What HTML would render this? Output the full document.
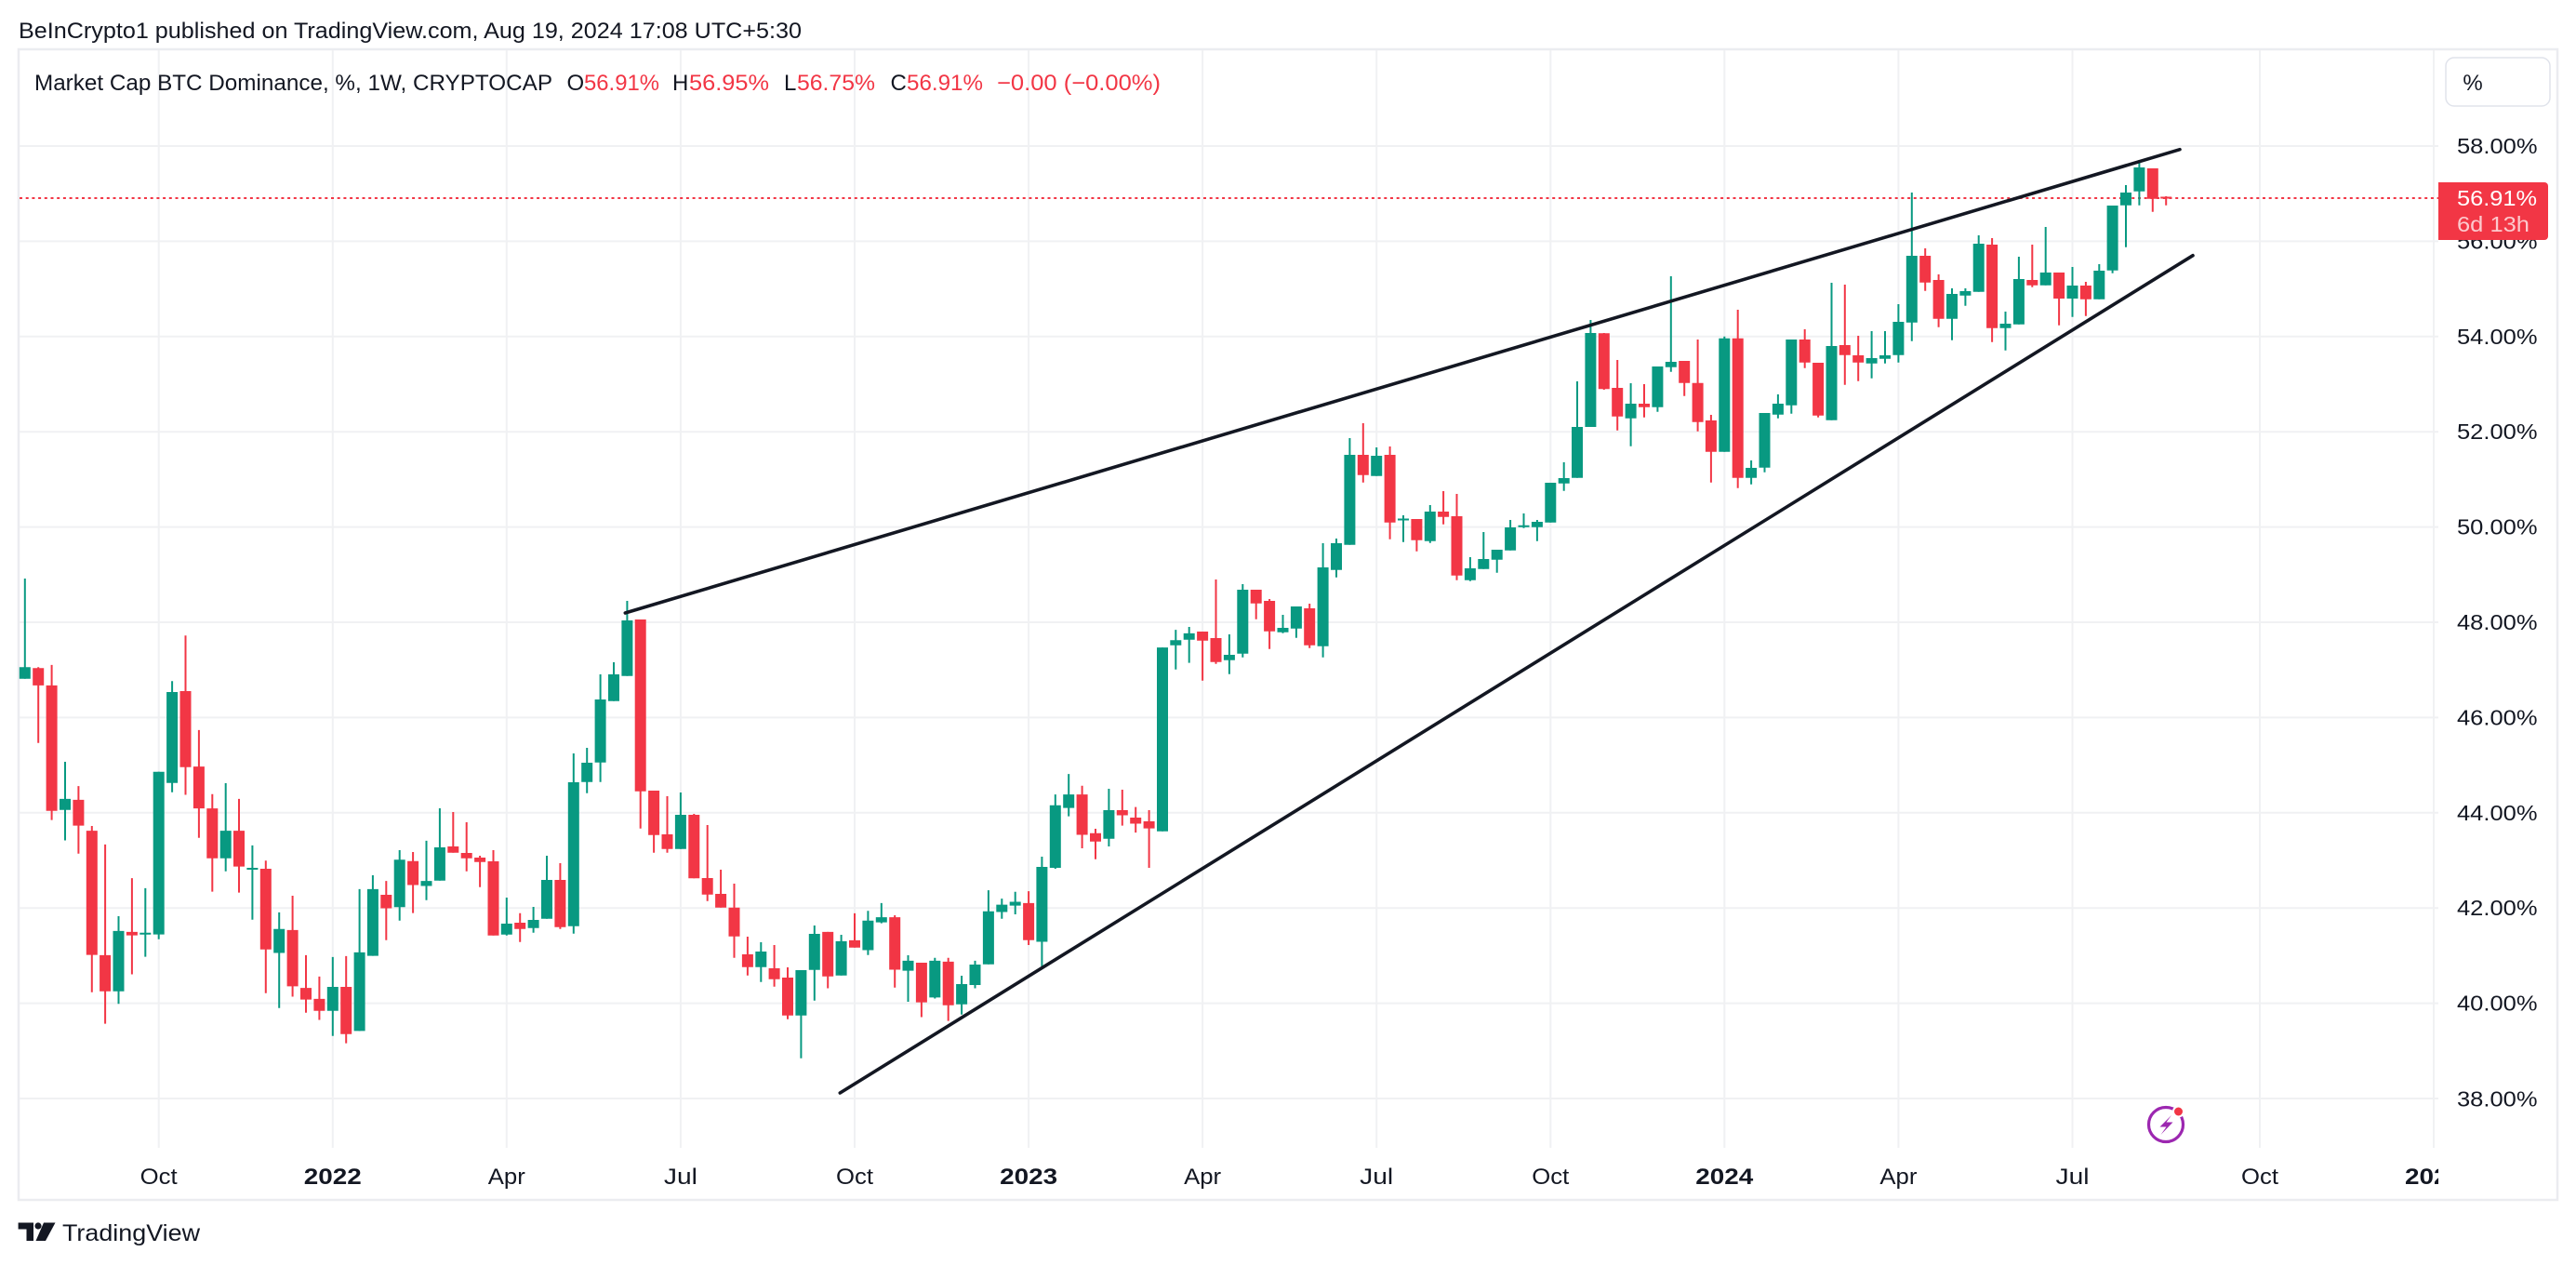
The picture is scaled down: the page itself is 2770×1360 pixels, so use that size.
<!DOCTYPE html>
<html>
<head>
<meta charset="utf-8">
<style>
  html, body { margin: 0; padding: 0; background: #ffffff; }
  svg { display: block; font-family: "Liberation Sans", sans-serif; }
</style>
</head>
<body>
<svg width="2770" height="1360" viewBox="0 0 2770 1360" xmlns="http://www.w3.org/2000/svg">
  <rect x="0" y="0" width="2770" height="1360" fill="#ffffff"/>

  <!-- header -->
  <text x="20" y="41" font-size="24.5" fill="#131722" textLength="842" lengthAdjust="spacingAndGlyphs">BeInCrypto1 published on TradingView.com, Aug 19, 2024 17:08 UTC+5:30</text>

  <!-- frame -->
  <rect x="20" y="53" width="2730" height="1237" fill="none" stroke="#EBECF0" stroke-width="2.5"/>

  <!-- horizontal grid -->
  <g stroke="#F0F1F3" stroke-width="2">
    <path d="M21 157H2622 M21 259.4H2622 M21 361.8H2622 M21 464.2H2622 M21 566.6H2622 M21 669H2622 M21 771.4H2622 M21 873.8H2622 M21 976.2H2622 M21 1078.6H2622 M21 1181H2622"/>
    <path d="M170.7 54V1234 M357.8 54V1234 M544.8 54V1234 M731.9 54V1234 M919 54V1234 M1106.1 54V1234 M1293.1 54V1234 M1480.2 54V1234 M1667.3 54V1234 M1854.3 54V1234 M2041.4 54V1234 M2228.5 54V1234 M2430 54V1234 M2617 54V1234"/>
  </g>

  <!-- legend -->
  <g font-size="24" fill="#131722">
    <text x="37" y="97" textLength="557" lengthAdjust="spacingAndGlyphs">Market Cap BTC Dominance, %, 1W, CRYPTOCAP</text>
    <text x="609.5" y="97">O</text>
    <text x="628" y="97" fill="#F23645" textLength="81" lengthAdjust="spacingAndGlyphs">56.91%</text>
    <text x="723" y="97">H</text>
    <text x="741" y="97" fill="#F23645" textLength="86" lengthAdjust="spacingAndGlyphs">56.95%</text>
    <text x="843" y="97">L</text>
    <text x="857" y="97" fill="#F23645" textLength="84" lengthAdjust="spacingAndGlyphs">56.75%</text>
    <text x="957.5" y="97">C</text>
    <text x="975" y="97" fill="#F23645" textLength="82" lengthAdjust="spacingAndGlyphs">56.91%</text>
    <text x="1072" y="97" fill="#F23645" textLength="176" lengthAdjust="spacingAndGlyphs">−0.00 (−0.00%)</text>
  </g>

  <!-- % button -->
  <rect x="2630" y="62" width="112" height="52" rx="9" fill="#ffffff" stroke="#E0E3EB" stroke-width="1.5"/>
  <text x="2659" y="97" font-size="24" fill="#131722" text-anchor="middle">%</text>

  <!-- price labels -->
  <g font-size="23" fill="#131722">
    <text x="2642" y="165" textLength="86.5" lengthAdjust="spacingAndGlyphs">58.00%</text>
    <text x="2642" y="267.4" textLength="86.5" lengthAdjust="spacingAndGlyphs">56.00%</text>
    <text x="2642" y="369.8" textLength="86.5" lengthAdjust="spacingAndGlyphs">54.00%</text>
    <text x="2642" y="472.2" textLength="86.5" lengthAdjust="spacingAndGlyphs">52.00%</text>
    <text x="2642" y="574.6" textLength="86.5" lengthAdjust="spacingAndGlyphs">50.00%</text>
    <text x="2642" y="677" textLength="86.5" lengthAdjust="spacingAndGlyphs">48.00%</text>
    <text x="2642" y="779.4" textLength="86.5" lengthAdjust="spacingAndGlyphs">46.00%</text>
    <text x="2642" y="881.8" textLength="86.5" lengthAdjust="spacingAndGlyphs">44.00%</text>
    <text x="2642" y="984.2" textLength="86.5" lengthAdjust="spacingAndGlyphs">42.00%</text>
    <text x="2642" y="1086.6" textLength="86.5" lengthAdjust="spacingAndGlyphs">40.00%</text>
    <text x="2642" y="1189.5" textLength="86.5" lengthAdjust="spacingAndGlyphs">38.00%</text>
  </g>

  <!-- time labels -->
  <defs>
    <clipPath id="tclip"><rect x="20" y="1235" width="2602" height="54"/></clipPath>
  </defs>
  <g font-size="24" fill="#131722" text-anchor="middle" clip-path="url(#tclip)">
    <text x="170.7" y="1273" textLength="40" lengthAdjust="spacingAndGlyphs">Oct</text>
    <text x="357.8" y="1273" font-weight="bold" textLength="62" lengthAdjust="spacingAndGlyphs">2022</text>
    <text x="544.8" y="1273" textLength="40" lengthAdjust="spacingAndGlyphs">Apr</text>
    <text x="731.9" y="1273" textLength="36" lengthAdjust="spacingAndGlyphs">Jul</text>
    <text x="919" y="1273" textLength="40" lengthAdjust="spacingAndGlyphs">Oct</text>
    <text x="1106.1" y="1273" font-weight="bold" textLength="62" lengthAdjust="spacingAndGlyphs">2023</text>
    <text x="1293.1" y="1273" textLength="40" lengthAdjust="spacingAndGlyphs">Apr</text>
    <text x="1480.2" y="1273" textLength="36" lengthAdjust="spacingAndGlyphs">Jul</text>
    <text x="1667.3" y="1273" textLength="40" lengthAdjust="spacingAndGlyphs">Oct</text>
    <text x="1854.3" y="1273" font-weight="bold" textLength="62" lengthAdjust="spacingAndGlyphs">2024</text>
    <text x="2041.4" y="1273" textLength="40" lengthAdjust="spacingAndGlyphs">Apr</text>
    <text x="2228.5" y="1273" textLength="36" lengthAdjust="spacingAndGlyphs">Jul</text>
    <text x="2430" y="1273" textLength="40" lengthAdjust="spacingAndGlyphs">Oct</text>
    <text x="2617" y="1273" font-weight="bold" textLength="62" lengthAdjust="spacingAndGlyphs">2025</text>
  </g>

  <!-- current price dotted line -->
  <path d="M21 213H2622" stroke="#F23645" stroke-width="2" stroke-dasharray="3 3.7"/>

  <!-- green candles -->
  <path fill="none" stroke="#089981" stroke-width="2" d="M26.8 622V729.8 M70 819V903.5 M127.5 985V1079.3 M156.3 954.9V1028.6 M170.7 829.8V1009.7 M185.1 732.2V851.8 M242.7 842V936.7 M271.4 908.9V988.7 M300.2 980.9V1083.7 M357.8 1028.9V1113.8 M386.6 955.9V1108.4 M400.9 941V1027.6 M429.7 914V989.7 M458.5 903.9V967.8 M472.9 869V946.7 M544.8 965V1005.7 M573.6 975V1002.7 M588 920V987.7 M616.8 810V1003.7 M631.2 804V852.7 M645.6 725V840.7 M660 712V753.7 M674.4 646V726.7 M731.9 852V912.7 M818.3 1013V1055.7 M861.4 1043V1137.7 M875.8 995V1075.7 M904.6 1005V1048.7 M933.4 979.2V1026.7 M947.8 970.9V992.6 M976.5 1027V1077 M1005.3 1029.8V1073.5 M1034.1 1049V1090.7 M1048.5 1032.9V1062.5 M1062.9 957.1V1036.7 M1077.3 966.1V987.8 M1091.7 958.8V983 M1120.4 921V1041.8 M1134.8 854.1V934 M1149.2 832.1V877.6 M1192.4 848V910 M1250 696.1V893.7 M1264.3 677.1V719.8 M1278.7 674V712.6 M1321.9 682V724.7 M1336.3 628V706.7 M1379.5 661V680.7 M1393.9 652V685.7 M1422.6 584V706.7 M1437 579V620.7 M1451.4 471V585.7 M1480.2 481V511.7 M1509 554V582.7 M1537.8 543V583.7 M1580.9 599V624.7 M1595.3 572V611.7 M1609.7 591V615.7 M1624.1 559V591.7 M1638.5 552V567.7 M1652.9 559V581.7 M1667.3 519V561.7 M1681.7 497V527.7 M1696 410V513.7 M1710.4 344V459 M1753.6 412V479.7 M1782.4 394V442.7 M1796.8 297V399.7 M1854.3 361.7V485.7 M1883.1 495V520.7 M1897.5 444V507.7 M1911.9 424V449.7 M1926.3 365V444.7 M1969.5 304V451.7 M2012.6 356V406.7 M2027 356V390.7 M2041.4 327V389.7 M2055.8 207V366.7 M2099 310V365.7 M2113.4 310V328.7 M2127.7 253V313.7 M2156.5 335V376.7 M2170.9 276V348.7 M2199.7 244V306.7 M2228.5 287V340.7 M2257.3 284V321.7 M2271.6 221V293.7 M2286 199V265.7 M2300.4 172V220.7"/>
  <path fill="none" stroke="#089981" stroke-width="12" d="M26.8 717.3V729.8 M70 858.9V870.7 M127.5 1000.9V1065.8 M156.3 1002.8V1004.8 M170.7 829.8V1004.6 M185.1 744V841.7 M242.7 893.1V922.8 M271.4 933V935 M300.2 998.8V1024.5 M357.8 1061V1086.7 M386.6 1023.9V1108.4 M400.9 955.9V1027.6 M429.7 924.2V975.2 M458.5 947.1V952.5 M472.9 911V946.7 M544.8 993V1004.7 M573.6 989V997.7 M588 946V987.7 M616.8 841V995.7 M631.2 820V840.7 M645.6 752V819.7 M660 725V753.7 M674.4 667V726.7 M731.9 876V912.7 M818.3 1023V1039.7 M861.4 1043V1091.7 M875.8 1004V1042.7 M904.6 1011.9V1048.7 M933.4 989.8V1021.5 M947.8 986.1V991.6 M976.5 1032.9V1043.6 M1005.3 1032.9V1072.4 M1034.1 1058V1079.7 M1048.5 1037V1059 M1062.9 979.8V1036.7 M1077.3 972.6V980.5 M1091.7 969.5V973.6 M1120.4 932V1012.5 M1134.8 865.8V933 M1149.2 854.1V868.6 M1192.4 871V901.7 M1250 696.1V893.7 M1264.3 688.2V693.7 M1278.7 680.9V687.8 M1321.9 704V709.7 M1336.3 634V702.7 M1379.5 675V679.7 M1393.9 652V675.7 M1422.6 610V694.7 M1437 584V612.7 M1451.4 489V585.7 M1480.2 490V511.7 M1509 557.5V559.5 M1537.8 550V581.7 M1580.9 611V623.7 M1595.3 601V611.7 M1609.7 591V601.7 M1624.1 567V591.7 M1638.5 564.8V566.8 M1652.9 561V566.7 M1667.3 519V561.7 M1681.7 514V519.7 M1696 459V513.7 M1710.4 358V459 M1753.6 434V449.7 M1782.4 394V437.7 M1796.8 389V394.7 M1854.3 363.7V485.7 M1883.1 503V513.7 M1897.5 444V502.7 M1911.9 434V445.7 M1926.3 365V435.7 M1969.5 372V451.7 M2012.6 385V390.7 M2027 382V385.7 M2041.4 346V381.7 M2055.8 275V346.7 M2099 316V342.7 M2113.4 313V317.7 M2127.7 262V313.7 M2156.5 348V352.7 M2170.9 300V348.7 M2199.7 293V306.7 M2228.5 307V321 M2257.3 291V321.7 M2271.6 221V290.7 M2286 207V220.7 M2300.4 180V205.7"/>

  <!-- red candles -->
  <path fill="none" stroke="#F23645" stroke-width="2" d="M41.2 717.3V798.7 M55.6 714.9V881.6 M84.4 845.1V917.7 M98.8 888V1066.8 M113.1 907.9V1100.6 M141.9 944.1V1047.5 M199.5 683.2V854.5 M213.9 784.9V900.8 M228.3 853.8V958.6 M257 858.9V959.6 M285.8 925.2V1067.8 M314.6 963V1071.5 M329 1026.9V1088.8 M343.4 1049.9V1096.5 M372.2 1027.9V1121.6 M415.3 947.1V1010.7 M444.1 916V981.6 M487.3 873V916.7 M501.7 884V936.7 M516.1 920V953.7 M530.5 914V1005.7 M559.2 981.7V1012.7 M602.4 928V998.7 M688.7 666V890.7 M703.1 850V916.7 M717.5 856V916.7 M746.3 875V944.3 M760.7 887V968.7 M775.1 935V975.7 M789.5 950V1029.7 M803.9 1007V1048.7 M832.6 1016V1060.7 M847 1040V1095.7 M890.2 1001.9V1062.5 M919 981.9V1018.8 M962.2 984V1061.8 M990.9 1035V1093.5 M1019.7 1029.8V1097.6 M1106.1 958.1V1016 M1163.6 844.8V912 M1178 891V923.7 M1206.8 849V887.6 M1221.2 867.6V895.1 M1235.6 871V933 M1293.1 679V731.7 M1307.5 623V713.7 M1350.7 634V665.7 M1365.1 644V697.7 M1408.2 649V696.7 M1465.8 455V518.7 M1494.6 480V579.7 M1523.4 558V592.7 M1552.1 528V563.7 M1566.5 531V623.7 M1724.8 358V419 M1739.2 387V462.7 M1768 413V448.7 M1811.2 388V425.7 M1825.6 365V463.7 M1839.9 446V518.7 M1868.7 333V524.7 M1940.7 354V395.7 M1955.1 390V448.7 M1983.8 306V413.7 M1998.2 361V409.7 M2070.2 267V312.7 M2084.6 295V351.7 M2142.1 256V367.7 M2185.3 263V308.7 M2214.1 293V349.7 M2242.9 303V339.7 M2314.8 181V227.7 M2329.2 211V220.7"/>
  <path fill="none" stroke="#F23645" stroke-width="12" d="M41.2 718.3V736.9 M55.6 736.9V871.8 M84.4 859.9V887.6 M98.8 893.1V1026.6 M113.1 1026.9V1065.8 M141.9 1001.9V1005.6 M199.5 743V824.8 M213.9 824.1V869.1 M228.3 869.1V922.8 M257 893.1V931.6 M285.8 934V1020.8 M314.6 999.9V1060.4 M329 1062.1V1074.6 M343.4 1073.9V1086.7 M372.2 1061V1111.7 M415.3 962V976.5 M444.1 925.8V951.5 M487.3 910V916.7 M501.7 917V922.7 M516.1 922V926.7 M530.5 926V1005.7 M559.2 992V998.7 M602.4 946V996.7 M688.7 666V850.7 M703.1 850V897.7 M717.5 897V912.7 M746.3 876V944.3 M760.7 944V961.7 M775.1 961V975.7 M789.5 975.7V1006.7 M803.9 1026V1039.7 M832.6 1041V1052.7 M847 1051V1091.7 M890.2 1001.9V1049.8 M919 1010.9V1018.8 M962.2 986.1V1042.5 M990.9 1035V1077.6 M1019.7 1033.9V1080.7 M1106.1 970.9V1010.8 M1163.6 854.1V897.5 M1178 895.8V904.8 M1206.8 871V876.5 M1221.2 879V885.5 M1235.6 883V890.6 M1293.1 679V688.7 M1307.5 686V711.7 M1350.7 634V648.7 M1365.1 646V678.7 M1408.2 654V693.7 M1465.8 489V510.7 M1494.6 489V561.7 M1523.4 558V580.7 M1552.1 550V555.7 M1566.5 555V618.7 M1724.8 358.3V418.3 M1739.2 417V447.7 M1768 434V437.7 M1811.2 388V411.7 M1825.6 411.7V453.7 M1839.9 452V485.7 M1868.7 363.7V513.7 M1940.7 365V389.7 M1955.1 390V446.7 M1983.8 371V381.7 M1998.2 382V389.7 M2070.2 275V303.7 M2084.6 301V342.7 M2142.1 263V352.7 M2185.3 301V306.7 M2214.1 293V321 M2242.9 307V321.7 M2314.8 181V213.7 M2329.2 211.5V213.5"/>

  <!-- trend lines -->
  <g stroke="#131722" stroke-width="3.6" stroke-linecap="round">
    <line x1="672.3" y1="659" x2="2344" y2="160.7"/>
    <line x1="903.3" y1="1175" x2="2358" y2="274.7"/>
  </g>

  <!-- price tag -->
  <path d="M2622 196H2736a4 4 0 0 1 4 4V254a4 4 0 0 1 -4 4H2622Z" fill="#F23645"/>
  <text x="2642" y="221" font-size="23" fill="#ffffff" textLength="86" lengthAdjust="spacingAndGlyphs">56.91%</text>
  <text x="2642" y="249" font-size="23" fill="#FCC9CD" textLength="78" lengthAdjust="spacingAndGlyphs">6d 13h</text>

  <!-- lightning icon -->
  <circle cx="2329" cy="1209" r="18.5" fill="none" stroke="#9C27B0" stroke-width="3.2"/>
  <polygon points="2335,1199 2322.5,1211.5 2329.5,1211.5 2323.5,1220 2336.5,1206.5 2329.5,1206.5" fill="#9C27B0"/>
  <circle cx="2342.5" cy="1195" r="5.5" fill="#F23645" stroke="#ffffff" stroke-width="2"/>

  <!-- TradingView logo -->
  <path d="M19.6 1314.5H36V1334H28.5V1321.5H19.6Z" fill="#131722"/>
  <circle cx="41" cy="1318" r="3.6" fill="#131722"/>
  <polygon points="47,1314.5 59.5,1314.5 49,1334 38.5,1334" fill="#131722"/>
  <text x="67" y="1334" font-size="25" fill="#131722" textLength="148" lengthAdjust="spacingAndGlyphs">TradingView</text>
</svg>
</body>
</html>
